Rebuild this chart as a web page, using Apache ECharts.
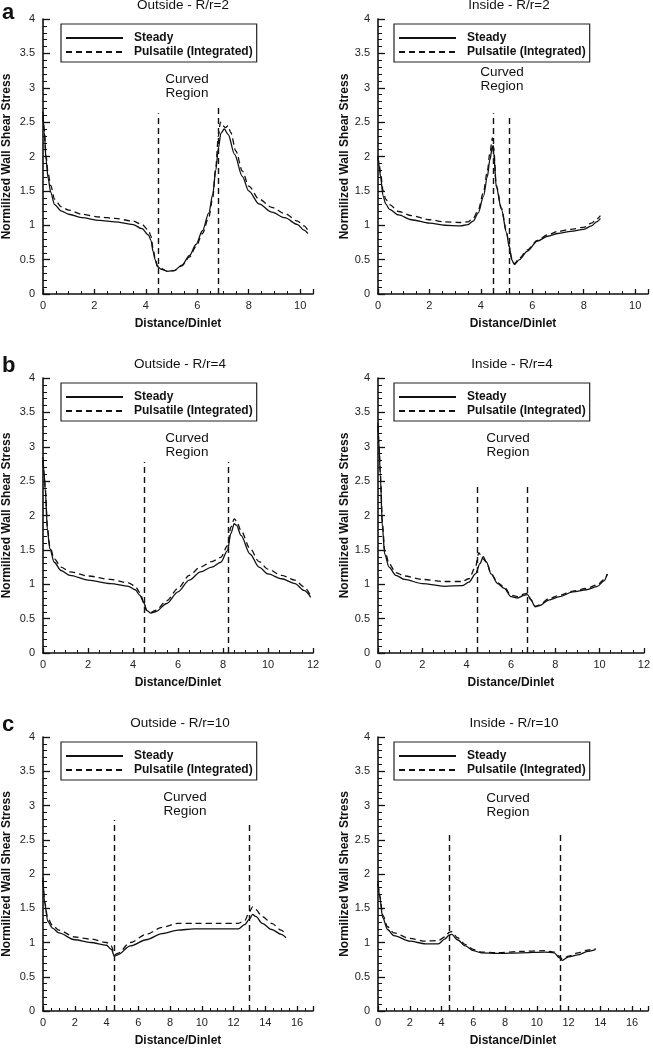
<!DOCTYPE html>
<html><head><meta charset="utf-8">
<script src="https://cdn.jsdelivr.net/npm/echarts@6/dist/echarts.min.js"></script>
<style>html,body{margin:0;padding:0;background:#fff}#c{width:653px;height:1048px}</style>
</head><body><div id="c"></div>
<script>
// ---- data ----
const panelTitles = ['Outside - R/r=2','Inside - R/r=2','Outside - R/r=4','Inside - R/r=4','Outside - R/r=10','Inside - R/r=10'];
const panelLetters = ['a','b','c'];
const seriesNames = ['Steady','Pulsatile (Integrated)'];
const xAxisName = 'Distance/Dinlet';
const yAxisName = 'Normilized Wall Shear Stress';
const xMax = [10.5, 10.5, 12, 12, 17, 17];
const curvedStart = [4.5, 4.5, 4.5, 4.5, 4.5, 4.5];
const curvedEnd = [6.8, 5.1, 8.25, 6.75, 13, 11.5];
const markerTopStart = [2.63, 2.63, 2.78, 2.46, 2.79, 2.62];
const markerTopEnd = [2.76, 2.57, 2.78, 2.43, 2.77, 2.6];

const out2Steady = [[0,2.65],[0.05,2.35],[0.12,1.95],[0.2,1.68],[0.3,1.48],[0.45,1.3],[0.7,1.21],[1.0,1.16],[1.5,1.11],[2.2,1.07],[2.8,1.05],[3.5,1.01],[3.85,0.95],[4.1,0.86],[4.2,0.78],[4.28,0.62],[4.36,0.5],[4.45,0.40],[4.6,0.36],[4.85,0.33],[5.1,0.34],[5.4,0.42],[5.7,0.56],[5.95,0.72],[6.2,0.92],[6.45,1.18],[6.6,1.45],[6.72,1.8],[6.82,2.12],[6.92,2.34],[7.05,2.40],[7.2,2.32],[7.45,2.03],[7.75,1.71],[8.0,1.50],[8.4,1.31],[8.9,1.19],[9.4,1.11],[9.9,1.01],[10.15,0.93],[10.3,0.88]];
const out2Puls = [[0,2.6],[0.05,2.4],[0.12,2.0],[0.2,1.75],[0.3,1.58],[0.45,1.38],[0.7,1.27],[1.0,1.22],[1.5,1.16],[2.2,1.12],[2.8,1.10],[3.5,1.06],[3.85,1.01],[4.1,0.93],[4.2,0.84],[4.28,0.66],[4.36,0.52],[4.45,0.41],[4.6,0.37],[4.85,0.33],[5.1,0.34],[5.4,0.41],[5.7,0.54],[5.95,0.69],[6.2,0.88],[6.45,1.12],[6.6,1.40],[6.72,1.85],[6.82,2.3],[6.9,2.5],[6.98,2.45],[7.1,2.42],[7.2,2.45],[7.3,2.35],[7.5,2.08],[7.75,1.79],[8.0,1.57],[8.4,1.38],[8.9,1.26],[9.4,1.17],[9.9,1.06],[10.15,0.99],[10.3,0.93]];
const in2Steady = [[0,2.0],[0.05,1.85],[0.1,1.7],[0.2,1.42],[0.3,1.31],[0.45,1.23],[0.8,1.15],[1.3,1.08],[2.0,1.03],[2.6,1.0],[3.2,0.99],[3.5,1.01],[3.7,1.06],[3.9,1.18],[4.1,1.42],[4.25,1.7],[4.35,1.95],[4.45,2.15],[4.5,2.05],[4.6,1.56],[4.8,1.23],[5.0,0.89],[5.1,0.69],[5.2,0.5],[5.3,0.43],[5.5,0.5],[5.8,0.62],[6.2,0.77],[6.6,0.84],[7.0,0.88],[7.5,0.91],[8.0,0.94],[8.3,0.99],[8.5,1.05],[8.65,1.10]];
const in2Puls = [[0,2.0],[0.05,1.88],[0.1,1.75],[0.2,1.5],[0.3,1.38],[0.45,1.3],[0.8,1.2],[1.3,1.14],[2.0,1.08],[2.6,1.05],[3.2,1.04],[3.5,1.05],[3.7,1.1],[3.9,1.22],[4.1,1.48],[4.25,1.78],[4.35,2.05],[4.45,2.27],[4.5,2.12],[4.6,1.58],[4.8,1.25],[5.0,0.9],[5.1,0.7],[5.2,0.52],[5.3,0.44],[5.5,0.52],[5.8,0.64],[6.2,0.78],[6.6,0.86],[7.0,0.91],[7.5,0.94],[8.0,0.97],[8.3,1.03],[8.5,1.09],[8.65,1.14]];
const out4Steady = [[0,2.85],[0.05,2.6],[0.1,2.37],[0.2,1.78],[0.3,1.52],[0.5,1.32],[0.8,1.2],[1.2,1.13],[2,1.06],[3,1.01],[3.8,0.97],[4.1,0.92],[4.3,0.84],[4.5,0.72],[4.6,0.62],[4.8,0.58],[5.0,0.60],[5.5,0.72],[6.0,0.89],[6.5,1.06],[7.0,1.18],[7.5,1.25],[7.9,1.32],[8.2,1.49],[8.35,1.74],[8.5,1.88],[8.6,1.86],[8.8,1.71],[9.2,1.44],[9.6,1.25],[10,1.15],[10.6,1.08],[11.2,1.01],[11.6,0.91],[11.9,0.81]];
const out4Puls = [[0,2.8],[0.05,2.6],[0.1,2.4],[0.2,1.82],[0.3,1.56],[0.5,1.37],[0.8,1.25],[1.2,1.18],[2,1.12],[3,1.07],[3.8,1.02],[4.1,0.97],[4.3,0.88],[4.5,0.72],[4.6,0.62],[4.8,0.59],[5.0,0.62],[5.5,0.76],[6.0,0.94],[6.5,1.13],[7.0,1.25],[7.5,1.33],[7.9,1.39],[8.2,1.56],[8.35,1.83],[8.5,1.95],[8.6,1.92],[8.8,1.78],[9.2,1.52],[9.6,1.33],[10,1.22],[10.6,1.13],[11.2,1.06],[11.6,0.96],[11.9,0.83]];
const in4Steady = [[0,3.35],[0.05,3.0],[0.1,2.6],[0.2,1.83],[0.3,1.44],[0.5,1.25],[0.8,1.13],[1.2,1.07],[2,1.01],[3,0.97],[3.8,0.98],[4.1,1.03],[4.4,1.15],[4.6,1.3],[4.75,1.40],[4.9,1.32],[5.1,1.15],[5.4,1.01],[5.7,0.94],[6.0,0.82],[6.3,0.80],[6.6,0.84],[6.75,0.85],[6.9,0.77],[7.1,0.67],[7.3,0.69],[7.7,0.77],[8.2,0.82],[8.8,0.89],[9.4,0.92],[9.9,0.97],[10.2,1.05],[10.35,1.15]];
const in4Puls = [[0,3.3],[0.05,3.0],[0.1,2.65],[0.2,1.9],[0.3,1.5],[0.5,1.3],[0.8,1.17],[1.2,1.12],[2,1.07],[3,1.04],[3.8,1.04],[4.1,1.08],[4.4,1.25],[4.55,1.46],[4.7,1.38],[4.9,1.32],[5.1,1.16],[5.4,1.02],[5.7,0.96],[6.0,0.84],[6.3,0.82],[6.6,0.86],[6.75,0.87],[6.9,0.78],[7.1,0.68],[7.3,0.7],[7.7,0.79],[8.2,0.84],[8.8,0.9],[9.4,0.94],[9.9,0.99],[10.2,1.07],[10.35,1.15]];
const out10Steady = [[0,1.95],[0.1,1.58],[0.3,1.31],[0.6,1.21],[1,1.14],[2,1.04],[3,1.0],[4,0.96],[4.3,0.9],[4.5,0.80],[4.7,0.82],[5.5,0.95],[6.5,1.04],[7.5,1.13],[8.5,1.18],[9.5,1.20],[11,1.2],[12.3,1.2],[12.7,1.26],[13.0,1.34],[13.2,1.41],[13.4,1.38],[13.8,1.28],[14.4,1.19],[15,1.12],[15.3,1.07]];
const out10Puls = [[0,1.9],[0.1,1.6],[0.3,1.35],[0.6,1.25],[1,1.18],[2,1.08],[3,1.05],[4,1.0],[4.3,0.95],[4.5,0.82],[4.7,0.84],[5.5,1.0],[6.5,1.12],[7.5,1.22],[8.5,1.28],[9.5,1.28],[11,1.28],[12.3,1.28],[12.7,1.32],[13.0,1.45],[13.2,1.52],[13.4,1.48],[13.8,1.38],[14.4,1.28],[15,1.18],[15.3,1.12]];
const in10Steady = [[0,1.9],[0.1,1.67],[0.3,1.36],[0.6,1.19],[1,1.10],[2,1.02],[3,0.98],[3.8,0.98],[4.2,1.05],[4.5,1.11],[4.65,1.12],[5,1.04],[5.5,0.95],[6,0.88],[6.5,0.85],[7.5,0.84],[9,0.85],[10.5,0.86],[11.1,0.85],[11.4,0.78],[11.6,0.74],[12,0.79],[12.6,0.82],[13.2,0.87],[13.7,0.90]];
const in10Puls = [[0,1.85],[0.1,1.7],[0.3,1.4],[0.6,1.23],[1,1.14],[2,1.06],[3,1.02],[3.8,1.03],[4.2,1.08],[4.5,1.15],[4.65,1.16],[5,1.07],[5.5,0.97],[6,0.9],[6.5,0.86],[7.5,0.85],[9,0.87],[10.5,0.88],[11.1,0.86],[11.4,0.8],[11.6,0.76],[12,0.8],[12.6,0.85],[13.2,0.89],[13.7,0.91]];

const steadySets = [out2Steady, in2Steady, out4Steady, in4Steady, out10Steady, in10Steady];
const pulsSets = [out2Puls, in2Puls, out4Puls, in4Puls, out10Puls, in10Puls];

// ---- layout ----
const FONT = "'Liberation Sans', Arial, Helvetica, sans-serif";
const INK = '#111';
const gridLefts = [43, 378];
const gridTops = [19, 378, 737];
const GW = 270, GH = 275;
const yNameGap = [30, 20];

const grids = [], xAxes = [], yAxes = [], series = [], legends = [], graphics = [];
const curvedPos = [[187, 86.5], [502, 79], [187, 445], [508, 445.5], [185, 804.5], [508, 805]];
const titleX = [183, 509, 180, 512, 180, 514];

for (let i = 0; i < 6; i++) {
  const col = i % 2, row = Math.floor(i / 2);
  const L = gridLefts[col], T = gridTops[row];
  grids.push({left: L, top: T, width: GW, height: GH});
  xAxes.push({
    type: 'value', gridIndex: i, min: 0, max: xMax[i], interval: 2,
    name: xAxisName, nameLocation: 'middle', nameGap: 24,
    nameTextStyle: {fontFamily: FONT, fontSize: 12, fontWeight: 'bold', color: INK},
    axisLine: {show: true, lineStyle: {color: INK, width: 1.6}},
    axisTick: {show: true, inside: true, length: 5, lineStyle: {color: INK, width: 1.3}},
    minorTick: {show: true, splitNumber: 4, length: 3, lineStyle: {color: INK, width: 1}},
    axisLabel: {fontFamily: FONT, fontSize: 11, color: '#222', margin: 6, showMaxLabel: Number.isInteger(xMax[i] / 2)},
    splitLine: {show: false}
  });
  yAxes.push({
    type: 'value', gridIndex: i, min: 0, max: 4, interval: 0.5,
    name: yAxisName, nameLocation: 'middle', nameGap: yNameGap[col],
    nameTextStyle: {fontFamily: FONT, fontSize: 12, fontWeight: 'bold', color: INK},
    axisLine: {show: true, lineStyle: {color: INK, width: 1.6}},
    axisTick: {show: true, inside: true, length: 7, lineStyle: {color: INK, width: 1.3}},
    minorTick: {show: true, splitNumber: 5, length: 4, lineStyle: {color: INK, width: 1}},
    axisLabel: {fontFamily: FONT, fontSize: 11, color: '#222', margin: 8},
    splitLine: {show: false}
  });
  series.push({
    name: seriesNames[0], type: 'line', xAxisIndex: i, yAxisIndex: i,
    data: steadySets[i], symbol: 'none', smooth: 0.3, smoothMonotone: 'x',
    lineStyle: {color: INK, width: 1.3, type: 'solid'}, itemStyle: {color: INK},
    markLine: {
      silent: true, symbol: ['none', 'none'], label: {show: false},
      lineStyle: {color: INK, width: 1.4, type: [6, 4]},
      data: [
        [{coord: [curvedStart[i], 0]}, {coord: [curvedStart[i], markerTopStart[i]]}],
        [{coord: [curvedEnd[i], 0]}, {coord: [curvedEnd[i], markerTopEnd[i]]}]
      ]
    }
  });
  series.push({
    name: seriesNames[1], type: 'line', xAxisIndex: i, yAxisIndex: i,
    data: pulsSets[i], symbol: 'none', smooth: 0.3, smoothMonotone: 'x',
    lineStyle: {color: INK, width: 1.3, type: [6, 4]}, itemStyle: {color: INK}
  });
  legends.push({
    data: seriesNames, orient: 'vertical', left: L + (col ? 16 : 18), top: T + 5,
    itemWidth: 57, itemHeight: 14, itemGap: 0,
    padding: [7, 4, 3, 4], borderColor: '#222', borderWidth: 1.2, backgroundColor: '#fff',
    selectedMode: false,
    itemStyle: {opacity: 0, borderWidth: 0},
    textStyle: {fontFamily: FONT, fontSize: 12, fontWeight: 'bold', color: INK, lineHeight: 14, padding: [0, 0, 0, 6]}
  });
  graphics.push({
    type: 'text', x: titleX[i], y: T - 14, z: 100,
    style: {text: panelTitles[i], fontFamily: FONT, fontSize: 13.5, fill: INK, textAlign: 'center', textVerticalAlign: 'middle'}
  });
  graphics.push({
    type: 'text', x: curvedPos[i][0], y: curvedPos[i][1], z: 100,
    style: {text: 'Curved\nRegion', fontFamily: FONT, fontSize: 13.5, lineHeight: 14, fill: INK, textAlign: 'center', textVerticalAlign: 'middle'}
  });
}
const letterBase = [20, 373, 732];
for (let r = 0; r < 3; r++) {
  graphics.push({
    type: 'text', x: 2, y: letterBase[r] - 7, z: 100,
    style: {text: panelLetters[r], fontFamily: FONT, fontSize: 22, fontWeight: 'bold', fill: INK, textAlign: 'left', textVerticalAlign: 'middle'}
  });
}

const chart = echarts.init(document.getElementById('c'), null, {renderer: 'canvas'});
chart.setOption({
  animation: false,
  backgroundColor: '#fff',
  grid: grids, xAxis: xAxes, yAxis: yAxes, series: series, legend: legends,
  graphic: graphics
});
</script>
</body></html>
